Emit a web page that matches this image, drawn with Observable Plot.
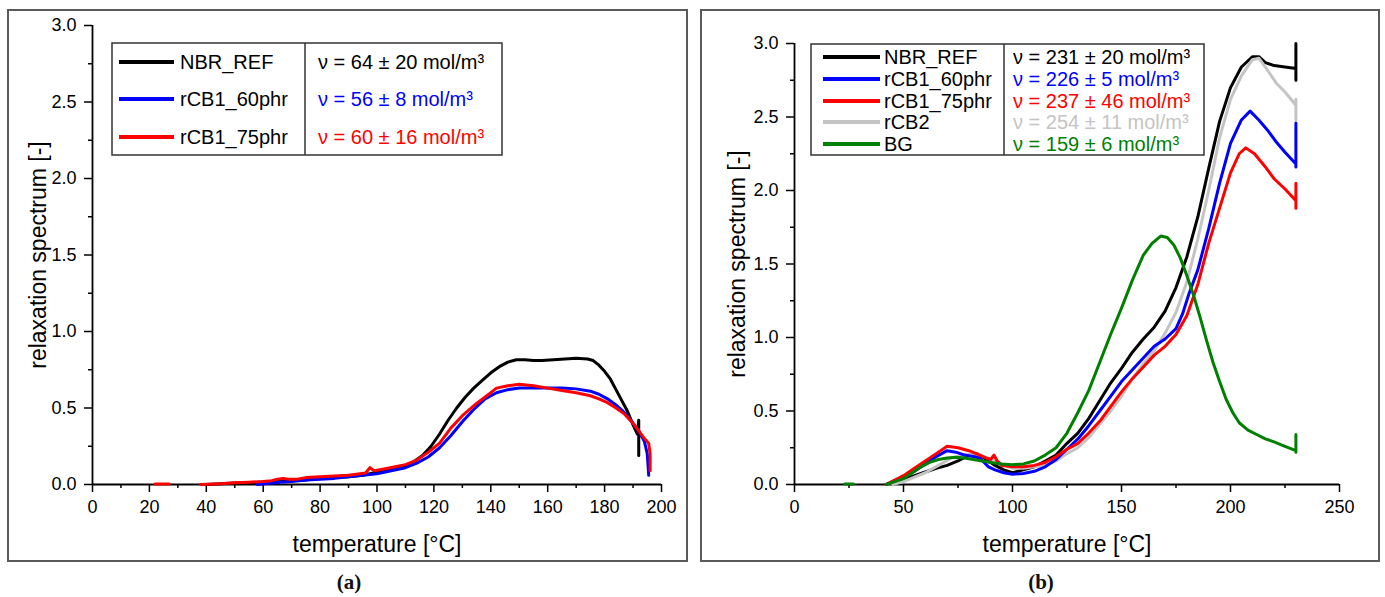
<!DOCTYPE html>
<html><head><meta charset="utf-8">
<script src="https://cdn.jsdelivr.net/npm/d3@7"></script>
<script src="https://cdn.jsdelivr.net/npm/@observablehq/plot@0.6"></script>
<style>
body{margin:0;background:#fff;width:1385px;height:597px;position:relative;overflow:hidden;font-family:"Liberation Sans",Arial,sans-serif;}
.frame{position:absolute;border:2px solid #5a5a5a;box-sizing:border-box;}
.cap{position:absolute;font-family:"Liberation Serif","Times New Roman",serif;font-weight:bold;font-size:21px;transform:translate(-50%,-50%);color:#111;}
.plot{position:absolute;}
#overlay{position:absolute;left:0;top:0;pointer-events:none;}
</style></head><body>
<div class="frame" style="left:7px;top:9px;width:681px;height:553px"></div>
<div class="frame" style="left:700px;top:9px;width:680px;height:553px"></div>
<div class="cap" style="left:349px;top:582px">(<span>a</span>)</div>
<div class="cap" style="left:1041px;top:582px">(<span>b</span>)</div>
<script>
// ---------------- DATA : panel (a) ----------------
const namesA  = ["NBR_REF", "rCB1_60phr", "rCB1_75phr"];
const nuMeanA = [64, 56, 60];
const nuErrA  = [20, 8, 16];

const tempA_NBR = [40,45,50,55,60,65,70,75,80,85,90,95,100,105,110,113,116,119,122,125,128,131,134,137,140,143,146,149,152,155,158,162,166,170,174,176,178,180,182,184,186,188,190,191.5,192,192];
const specA_NBR = [0,0.005,0.01,0.012,0.015,0.02,0.025,0.03,0.04,0.045,0.05,0.06,0.08,0.095,0.12,0.15,0.19,0.25,0.33,0.42,0.50,0.57,0.63,0.68,0.73,0.77,0.80,0.815,0.815,0.81,0.81,0.815,0.82,0.825,0.82,0.81,0.78,0.74,0.69,0.62,0.55,0.48,0.39,0.33,0.42,0.19];

const tempA_60 = [58,62,66,70,75,80,85,90,95,100,105,110,114,118,122,126,130,134,138,142,146,150,155,160,165,170,175,178,181,184,187,190,192,194,195,195.5];
const specA_60 = [0,0.008,0.015,0.02,0.03,0.035,0.04,0.05,0.06,0.07,0.09,0.11,0.14,0.18,0.24,0.32,0.41,0.49,0.56,0.60,0.62,0.63,0.63,0.63,0.63,0.625,0.61,0.59,0.56,0.52,0.47,0.40,0.35,0.28,0.2,0.06];

const tempA_75 = [22,27,30,38,45,50,55,60,63,65,67,69,72,75,80,85,90,94,96,97.5,99,102,106,110,114,118,122,126,130,135,140,142,146,150,155,160,165,170,175,178,181,184,187,190,192,194,195.5,196,196];
const specA_75 = [0.003,0.003,null,0,0.005,0.012,0.015,0.02,0.025,0.035,0.04,0.035,0.035,0.045,0.05,0.055,0.06,0.07,0.075,0.11,0.09,0.10,0.115,0.13,0.16,0.21,0.27,0.37,0.45,0.53,0.60,0.63,0.645,0.655,0.645,0.63,0.615,0.60,0.58,0.56,0.535,0.50,0.46,0.40,0.35,0.30,0.27,0.2,0.09];

// ---------------- DATA : panel (b) ----------------
const namesB  = ["NBR_REF", "rCB1_60phr", "rCB1_75phr", "rCB2", "BG"];
const nuMeanB = [231, 226, 237, 254, 159];
const nuErrB  = [20, 5, 46, 11, 6];

const tempB_NBR = [45,50,55,60,65,70,75,80,84,88,92,96,100,105,110,115,120,125,130,135,140,145,150,155,160,165,170,175,180,185,190,195,200,205,210,213,216,220,225,230,230,230];
const specB_NBR = [0,0.04,0.06,0.085,0.11,0.13,0.16,0.2,0.21,0.17,0.13,0.1,0.08,0.1,0.12,0.16,0.2,0.28,0.35,0.45,0.57,0.69,0.79,0.9,0.99,1.07,1.18,1.34,1.55,1.82,2.15,2.47,2.70,2.84,2.91,2.91,2.87,2.85,2.84,2.83,3.0,2.75];

const tempB_60 = [42,48,54,60,65,70,74,78,82,85,87,89,92,96,100,105,110,115,120,125,130,135,140,145,150,155,160,165,170,175,178,181,185,190,195,200,205,209,213,217,221,225,230,230,230];
const specB_60 = [0,0.04,0.08,0.14,0.19,0.23,0.22,0.2,0.19,0.18,0.15,0.12,0.1,0.08,0.07,0.075,0.09,0.12,0.17,0.24,0.31,0.4,0.5,0.6,0.7,0.78,0.86,0.94,0.99,1.06,1.16,1.3,1.46,1.74,2.05,2.32,2.48,2.54,2.48,2.41,2.33,2.26,2.18,2.46,2.16];

const tempB_75 = [42,46,50,55,60,65,70,75,80,85,88,90,91.5,93,95,100,105,110,115,120,125,130,135,140,145,150,155,160,165,170,175,180,185,190,195,200,204,207,211,216,220,225,230,230,230];
const specB_75 = [0,0.03,0.06,0.11,0.16,0.21,0.26,0.25,0.23,0.2,0.18,0.17,0.2,0.16,0.13,0.12,0.12,0.13,0.15,0.19,0.24,0.28,0.35,0.43,0.53,0.63,0.72,0.8,0.88,0.94,1.02,1.15,1.36,1.64,1.88,2.12,2.25,2.29,2.25,2.16,2.08,2.01,1.93,2.05,1.88];

const tempB_CB2 = [45,50,55,60,66,72,78,84,90,95,100,105,110,115,120,125,130,135,140,145,150,155,160,165,170,175,180,185,190,195,200,205,210,213,216,221,225,230,230,230];
const specB_CB2 = [0,0.02,0.05,0.08,0.13,0.18,0.2,0.21,0.17,0.14,0.11,0.11,0.12,0.13,0.16,0.21,0.25,0.32,0.41,0.5,0.6,0.72,0.82,0.91,1.03,1.17,1.38,1.67,2.0,2.36,2.62,2.78,2.89,2.9,2.84,2.73,2.67,2.58,2.62,2.48];

const tempB_BG = [23,27,30,42,46,50,54,58,62,66,70,74,78,82,86,90,95,100,105,110,115,120,125,130,135,140,145,150,155,160,164,168,171,174,177,180,183,186,189,192,195,198,201,204,208,212,216,220,225,230,230,230];
const specB_BG = [0.003,0.003,null,0,0.02,0.04,0.08,0.12,0.15,0.17,0.18,0.185,0.18,0.17,0.16,0.15,0.14,0.135,0.14,0.16,0.2,0.25,0.35,0.49,0.64,0.83,1.02,1.2,1.39,1.56,1.64,1.69,1.68,1.63,1.54,1.42,1.29,1.14,0.98,0.83,0.7,0.58,0.49,0.42,0.37,0.34,0.31,0.29,0.26,0.23,0.34,0.22];

// colour palette (Origin standard)
const palette = {NBR_REF:"#000000", rCB1_60phr:"#0000ff", rCB1_75phr:"#ff0000", rCB2:"#c4c4c4", BG:"#008000"};

// tick definitions
const xTicksA = [0,20,40,60,80,100,120,140,160,180,200];
const xMinorA = [10,30,50,70,90,110,130,150,170,190];
const xTicksB = [0,50,100,150,200,250];
const xMinorB = [25,75,125,175,225];
const yTicks  = [0,0.5,1.0,1.5,2.0,2.5,3.0];
const yMinor  = [0.25,0.75,1.25,1.75,2.25,2.75];

// ---------------- build tables ----------------
function table(name, T, V) { return T.map((t, i) => ({series: name, T: t, v: V[i]})); }
const seriesA = [
  table("NBR_REF", tempA_NBR, specA_NBR),
  table("rCB1_60phr", tempA_60, specA_60),
  table("rCB1_75phr", tempA_75, specA_75)
];
const seriesB = [
  table("NBR_REF", tempB_NBR, specB_NBR),
  table("rCB2", tempB_CB2, specB_CB2),
  table("rCB1_60phr", tempB_60, specB_60),
  table("rCB1_75phr", tempB_75, specB_75),
  table("BG", tempB_BG, specB_BG)
];

function makePanel(series, xDomain, xTicks, xMinor, box, m, titleDx) {
  const marks = [];
  marks.push(Plot.axisX({ticks: xMinor, tickSize: 4, tickFormat: () => "", strokeWidth: 1.5, label: null}));
  marks.push(Plot.axisY({ticks: yMinor, tickSize: 4, tickFormat: () => "", strokeWidth: 1.5, label: null}));
  marks.push(Plot.axisX({ticks: xTicks, tickSize: 8, tickPadding: 8, tickFormat: d => String(d), fontSize: 18, strokeWidth: 1.5, label: null}));
  marks.push(Plot.axisY({ticks: yTicks, tickSize: 8, tickPadding: 8, tickFormat: d3.format(".1f"), fontSize: 18, strokeWidth: 1.5, label: null}));
  marks.push(Plot.ruleX([xDomain[0]], {stroke: "#000", strokeWidth: 1.8}));
  marks.push(Plot.ruleY([0], {stroke: "#000", strokeWidth: 1.8}));
  for (const s of series) {
    marks.push(Plot.line(s, {x: "T", y: "v", stroke: palette[s[0].series], strokeWidth: 3, curve: "linear"}));
  }
  marks.push(Plot.text(["temperature [°C]"], {text: d => d, frameAnchor: "bottom", textAnchor: "middle", lineAnchor: "middle", dy: 60, fontSize: 23}));
  marks.push(Plot.text(["relaxation spectrum [-]"], {text: d => d, frameAnchor: "left", textAnchor: "middle", lineAnchor: "middle", dx: titleDx, rotate: -90, fontSize: 23}));
  const svg = Plot.plot({
    width: box.w, height: box.h,
    marginLeft: m.l, marginRight: m.r, marginTop: m.t, marginBottom: m.b,
    x: {domain: xDomain},
    y: {domain: [0, 3]},
    style: {fontFamily: "'Liberation Sans', Arial, sans-serif", fontSize: "18px", color: "#000", background: "transparent", overflow: "visible"},
    marks
  });
  svg.classList.add("plot");
  svg.style.left = box.x + "px";
  svg.style.top = box.y + "px";
  document.body.appendChild(svg);
}

makePanel(seriesA, [0, 200], xTicksA, xMinorA, {x: 8, y: 10, w: 678, h: 551}, {l: 84, r: 25, t: 15, b: 77}, -54);
makePanel(seriesB, [0, 250], xTicksB, xMinorB, {x: 701, y: 10, w: 678, h: 551}, {l: 93, r: 40, t: 33, b: 77}, -57);

// ---------------- legends ----------------
const overlay = d3.select("body").append("svg").attr("id", "overlay").attr("width", 1385).attr("height", 597);
function legend(names, means, errs, L) {
  const g = overlay.append("g").attr("font-family", "'Liberation Sans', Arial, sans-serif").attr("font-size", 20);
  g.append("rect").attr("x", L.x0).attr("y", L.y0).attr("width", L.x1 - L.x0).attr("height", L.y1 - L.y0)
    .attr("fill", "#fff").attr("stroke", "#333").attr("stroke-width", 1.5);
  g.append("line").attr("x1", L.div).attr("x2", L.div).attr("y1", L.y0).attr("y2", L.y1).attr("stroke", "#333").attr("stroke-width", 1.5);
  names.forEach((n, i) => {
    const y = L.rows[i], c = palette[n];
    g.append("line").attr("x1", L.lx0).attr("x2", L.lx1).attr("y1", y).attr("y2", y).attr("stroke", c).attr("stroke-width", 4);
    g.append("text").attr("x", L.tx).attr("y", y).attr("dy", "0.36em").attr("fill", "#000").text(n);
    g.append("text").attr("x", L.vx).attr("y", y).attr("dy", "0.36em").attr("fill", c)
      .text(`ν = ${means[i]} ± ${errs[i]} mol/m³`);
  });
}
legend(namesA, nuMeanA, nuErrA, {x0: 112, y0: 43, x1: 502, y1: 155, div: 305, rows: [62, 99, 137], lx0: 119, lx1: 174, tx: 180, vx: 318});
legend(namesB, nuMeanB, nuErrB, {x0: 811, y0: 44, x1: 1204, y1: 155, div: 1004, rows: [57, 79, 101, 122, 144], lx0: 823, lx1: 880, tx: 884, vx: 1013});
</script>
</body></html>
